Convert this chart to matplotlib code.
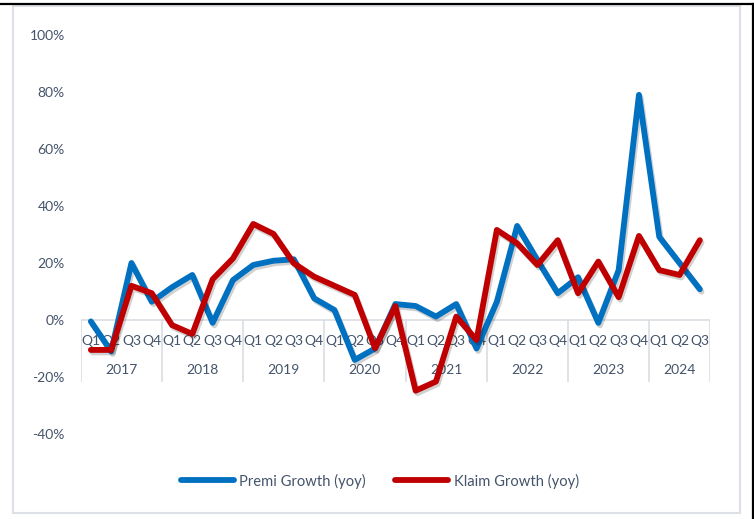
import matplotlib
matplotlib.use("Agg")
import matplotlib.pyplot as plt
import matplotlib.patheffects as pe
from matplotlib.lines import Line2D
from matplotlib.patches import Rectangle
from matplotlib.ticker import FuncFormatter

years = ["2017", "2018", "2019", "2020", "2021", "2022", "2023", "2024"]
quarters_per_year = [4, 4, 4, 4, 4, 4, 4, 3]
quarter_names = ["Q1", "Q2", "Q3", "Q4"]

premi_growth = [-0.5, -11, 20, 6.4, 11.5, 15.8, -1, 14, 19.3, 20.8, 21.3, 7.6,
                3.5, -14, -10, 5.6, 4.9, 1.2, 5.6, -10, 6.4, 33, 21, 9.4,
                15, -1, 17.5, 79, 29.2, 20, 10.8]
klaim_growth = [-10.5, -10.5, 12, 9.4, -1.8, -4.9, 14.3, 21.6, 33.7, 30.2, 19.9, 15.2,
                12, 8.8, -9.9, 4.9, -24.8, -21.6, 1.2, -7, 31.6, 26.9, 19.3, 28,
                9.4, 20.5, 8, 29.5, 17.5, 15.8, 28]

series_names = ["Premi Growth (yoy)", "Klaim Growth (yoy)"]
y_ticks = [-40, -20, 0, 20, 40, 60, 80, 100]

W, H = 754, 519
DPI = 100
plt.rcParams['font.family'] = ['Lato', 'DejaVu Sans']
text_color = "#44546A"
grid_color = "#D9DDE3"

fig = plt.figure(figsize=(W / DPI, H / DPI), dpi=DPI)
fig.patch.set_facecolor("white")

ax_l, ax_r = 80.7, 710.0
ax_top, ax_bot = 35.0, 434.0
ax = fig.add_axes([ax_l / W, 1 - ax_bot / H, (ax_r - ax_l) / W, (ax_bot - ax_top) / H])
ax.set_facecolor("none")

x = list(range(len(premi_growth)))
shadow = [pe.SimpleLineShadow(offset=(1.2, -1.8), shadow_color="black", alpha=0.18), pe.Normal()]
ax.plot(x, premi_growth, color="#0070C0", lw=4.2, solid_joinstyle="round",
        solid_capstyle="round", label=series_names[0], path_effects=shadow, zorder=3)
ax.plot(x, klaim_growth, color="#C00000", lw=4.2, solid_joinstyle="round",
        solid_capstyle="round", label=series_names[1], path_effects=shadow, zorder=4)

ax.set_xlim(-0.5, len(x) - 0.5)
ax.set_ylim(-40, 100)
ax.set_yticks(y_ticks)
ax.yaxis.set_major_formatter(FuncFormatter(lambda v, p: f"{int(v)}%"))
ax.tick_params(axis="y", length=0, pad=11.5, labelsize=10, labelcolor=text_color)
ax.set_xticks([])
for s in ax.spines.values():
    s.set_visible(False)

# category axis at zero
ax.axhline(0, color=grid_color, lw=1.2, zorder=1)
px_per_unit = (ax_bot - ax_top) / 140.0
sep_depth = 62 / px_per_unit
start = 0
bounds = [-0.5]
for yr, n in zip(years, quarters_per_year):
    for q in range(n):
        ax.annotate(quarter_names[q], xy=(start + q, 0), xytext=(0, -21),
                    textcoords="offset pixels", ha="center", va="center",
                    fontsize=10, color=text_color, zorder=2)
    ax.annotate(yr, xy=(start + (n - 1) / 2, 0), xytext=(0, -50),
                textcoords="offset pixels", ha="center", va="center",
                fontsize=10, color=text_color, zorder=2)
    start += n
    bounds.append(start - 0.5)
ax.vlines(bounds, -sep_depth, 0, color=grid_color, lw=1.2, zorder=1)

leg = fig.legend(loc="center", bbox_to_anchor=(380 / W, 1 - 481 / H), ncol=2,
                 frameon=False, fontsize=10.6, handlelength=3.6, handletextpad=0.35,
                 columnspacing=2.0)
for t in leg.get_texts():
    t.set_color(text_color)
for h in leg.get_lines():
    h.set_solid_capstyle("round")
    h.set_path_effects([])

# chart frame
fig.add_artist(Rectangle((12.5 / W, 1 - 513 / H), (740 - 12.5) / W, (513 - 5.5) / H,
                         transform=fig.transFigure, fill=False, edgecolor="#DDE1E7", lw=1.5))
fig.add_artist(Line2D([0, 1], [1 - 4 / H, 1 - 4 / H], transform=fig.transFigure,
                      color="black", lw=1.6))
fig.add_artist(Line2D([752.5 / W, 752.5 / W], [0, 1 - 4 / H], transform=fig.transFigure,
                      color="black", lw=1.6))

fig.savefig("out.png", dpi=DPI)
